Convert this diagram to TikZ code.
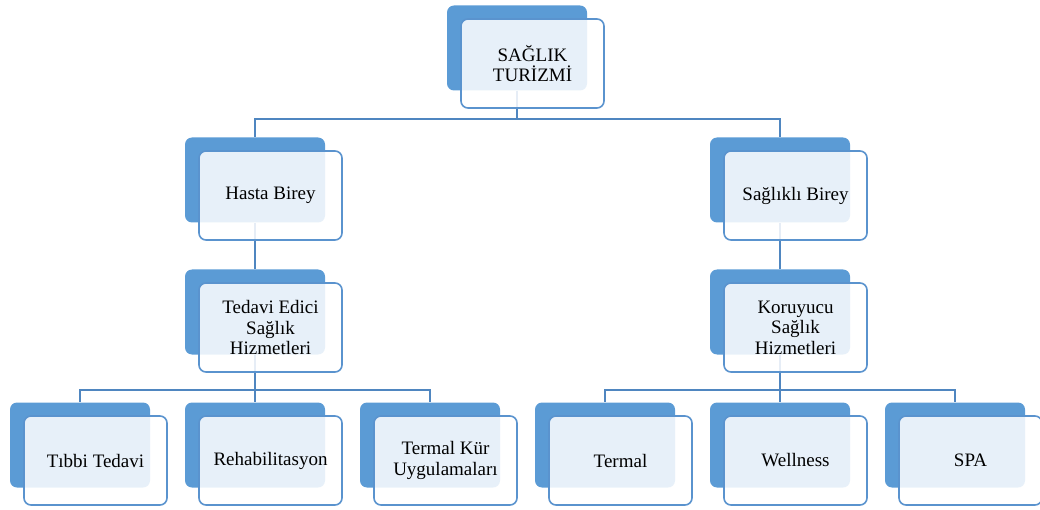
\documentclass[tikz,border=0pt]{standalone}
\usepackage{fontspec}
\setmainfont{Liberation Serif}
\definecolor{boxblue}{HTML}{5B9BD5}
\definecolor{edgeblue}{HTML}{5A93CE}
\definecolor{lineblue}{HTML}{4F86C0}
\tikzset{
  backbox/.style={rectangle, rounded corners=7pt, fill=boxblue, minimum width=140pt, minimum height=85pt, inner sep=0pt},
  frontbox/.style={rectangle, rounded corners=7pt, draw=edgeblue, line width=1.6pt, fill=white, fill opacity=0.86, text opacity=1, minimum width=143pt, minimum height=89pt, inner sep=0pt, align=center, font=\rmfamily\fontsize{19}{20.5}\selectfont},
  link/.style={draw=lineblue, line width=2.2pt}
}
\begin{document}
\begin{tikzpicture}[x=1pt,y=-1pt]
    \useasboundingbox (0,0) rectangle (1040,510);
    % back boxes
    \node [backbox] (st) at (517,48) {};
    \node [backbox] (hb) at (255,180) {};
    \node [backbox] (sb) at (780,180) {};
    \node [backbox] (te) at (255,312) {};
    \node [backbox] (ko) at (780,312) {};
    \foreach \n/\x in {tt/80, re/255, tk/430, th/605, we/780, spa/955}
    \node [backbox] (\n) at (\x,445) {};
    % connectors
    \draw [link] (st.south) -- ++(0,28.5) -| (hb.north);
    \draw [link] (st.south) -- ++(0,28.5) -| (sb.north);
    \draw [link] (hb.south) -- (te.north);
    \draw [link] (sb.south) -- (ko.north);
    \foreach \n in {tt,re,tk}
    \draw [link] (te.south) -- ++(0,35.5) -| (\n.north);
    \foreach \n in {th,we,spa}
    \draw [link] (ko.south) -- ++(0,35.5) -| (\n.north);
    % front boxes
    \node [frontbox] (stf) at ([shift={(15.5,15.5)}]st.center) {SAĞLIK\\TURİZMİ};
    \node [frontbox] (hbf) at ([shift={(15.5,15.5)}]hb.center) {Hasta Birey};
    \node [frontbox] (sbf) at ([shift={(15.5,15.5)}]sb.center) {Sağlıklı Birey};
    \node [frontbox] (tef) at ([shift={(15.5,15.5)}]te.center) {Tedavi Edici\\Sağlık\\Hizmetleri};
    \node [frontbox] (kof) at ([shift={(15.5,15.5)}]ko.center) {Koruyucu\\Sağlık\\Hizmetleri};
    \foreach \n/\t in {tt/Tıbbi Tedavi, re/Rehabilitasyon, tk/{Termal Kür\\Uygulamaları}, th/Termal, we/Wellness, spa/SPA}
    \node [frontbox] (\n f) at ([shift={(15.5,15.5)}]\n.center) {\t};
\end{tikzpicture}
\end{document}
